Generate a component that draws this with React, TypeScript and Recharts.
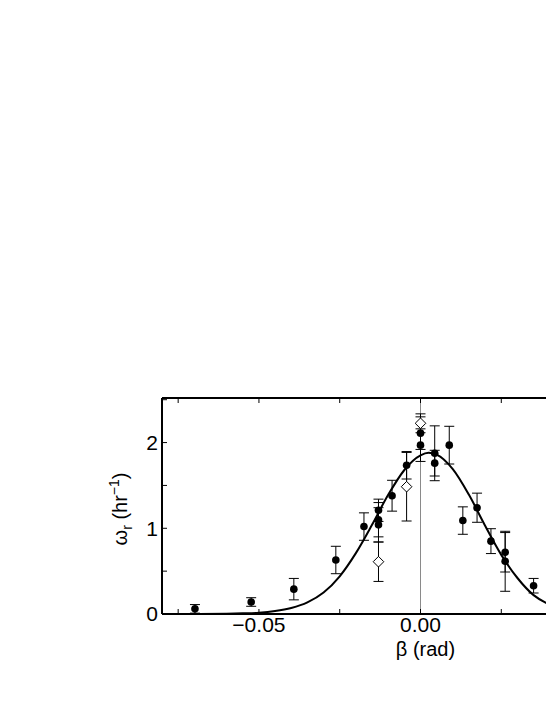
import React from "react";
import {
  ComposedChart,
  XAxis,
  YAxis,
  Scatter,
  Line,
  ErrorBar,
  ReferenceLine,
  Label,
} from "recharts";

// fitted curve
const fitBeta = [
  -0.08, -0.07, -0.06, -0.055, -0.05, -0.045, -0.04, -0.035, -0.03, -0.025,
  -0.02, -0.015, -0.01, -0.005, 0, 0.0025, 0.005, 0.01, 0.015, 0.02, 0.025,
  0.03, 0.035, 0.04, 0.045, 0.05, 0.055, 0.06, 0.07, 0.08,
];
const fitRate = [
  0, 0.001, 0.004, 0.008, 0.015, 0.034, 0.07, 0.135, 0.25, 0.44, 0.71, 1.04,
  1.39, 1.68, 1.85, 1.88, 1.86, 1.69, 1.39, 1.03, 0.69, 0.42, 0.22, 0.11, 0.05,
  0.02, 0.008, 0.003, 0.001, 0,
];

// filled circles
const beta = [
  -0.0698, -0.0524, -0.0392, -0.0262, -0.0175, -0.013, -0.013, -0.013, -0.0088,
  -0.0043, 0.0, 0.0, 0.0044, 0.0044, 0.0089, 0.0131, 0.0175, 0.0218, 0.0262,
  0.0262, 0.035,
];
const rate = [
  0.06, 0.14, 0.29, 0.63, 1.02, 1.21, 1.1, 1.04, 1.38, 1.735, 2.11, 1.97, 1.875,
  1.76, 1.97, 1.09, 1.24, 0.85, 0.72, 0.615, 0.33,
];
const rateErr = [
  0.05, 0.05, 0.125, 0.16, 0.16, 0.13, 0.2, 0.2, 0.18, 0.16, 0.19, 0.19, 0.32,
  0.15, 0.22, 0.16, 0.17, 0.145, 0.23, 0.35, 0.085,
];

// open diamonds
const betaOpen = [-0.013, -0.0043, 0.0];
const rateOpen = [0.61, 1.485, 2.225];
const rateOpenErr = [0.23, 0.4, 0.11];

const betaTicks = [-0.075, -0.05, -0.025, 0, 0.025, 0.05, 0.075];
// the 0.05 label lies past the cropped right edge, so it is not drawn
const betaTickLabels = ["", "\u22120.05", "", "0.00", "", "", ""];
const rateTicks = [0, 0.5, 1, 1.5, 2, 2.5];
const rateTickLabels = ["0", "", "1", "", "2", ""];

const FONT = "'Liberation Sans', Arial, Helvetica, sans-serif";

const fitData = fitBeta.map((x, i) => ({ x, y: fitRate[i] }));
const solidData = beta.map((x, i) => ({ x, y: rate[i], err: rateErr[i] }));
const openData = betaOpen.map((x, i) => ({ x, y: rateOpen[i], err: rateOpenErr[i] }));

const Dot = (props: any) => {
  const { cx, cy } = props;
  if (cx == null || cy == null) return null;
  return <circle cx={cx} cy={cy} r={3.8} fill="#000" />;
};

const Diamond = (props: any) => {
  const { cx, cy } = props;
  if (cx == null || cy == null) return null;
  const s = 5.3;
  return (
    <polygon
      points={`${cx},${cy - s} ${cx + s},${cy} ${cx},${cy + s} ${cx - s},${cy}`}
      fill="#fff"
      stroke="#000"
      strokeWidth={1}
    />
  );
};

const RateLabel = (props: any) => {
  const vb = props.viewBox;
  const cx = vb.x + 25;
  const cy = vb.y + vb.height / 2 + 3;
  return (
    <text
      x={cx}
      y={cy}
      transform={`rotate(-90 ${cx} ${cy})`}
      textAnchor="middle"
      fontSize={20}
      fontFamily={FONT}
      fill="#000"
    >
      ω
      <tspan fontSize={14} dy={5}>
        r
      </tspan>
      <tspan dy={-5}> (hr</tspan>
      <tspan fontSize={14} dy={-8}>
        −1
      </tspan>
      <tspan dy={8}>)</tspan>
    </text>
  );
};

const BetaLabel = (props: any) => {
  const vb = props.viewBox;
  return (
    <text
      x={vb.x + vb.width / 2 + 5}
      y={vb.y + 42}
      textAnchor="middle"
      fontSize={20}
      fontFamily={FONT}
      fill="#000"
    >
      β (rad)
    </text>
  );
};

const tickStyle = { fill: "#000", fontSize: 21, fontFamily: FONT };
const axisLine = { stroke: "#000", strokeWidth: 2 };
const tickLine = { stroke: "#000", strokeWidth: 1 };

export default function App() {
  return (
    <div style={{ width: 546, height: 700, overflow: "hidden", position: "relative" }}>
      <ComposedChart
        width={680}
        height={700}
        margin={{ top: 389, right: 9, bottom: 54, left: 94 }}
      >
        <XAxis
          dataKey="x"
          type="number"
          domain={[-0.08, 0.08]}
          ticks={betaTicks}
          interval={0}
          tickFormatter={(v: number) => betaTickLabels[betaTicks.indexOf(v)] ?? ""}
          tick={tickStyle}
          tickSize={-5}
          tickMargin={8}
          axisLine={axisLine}
          tickLine={tickLine}
          height={40}
          allowDataOverflow
        >
          <Label content={BetaLabel} />
        </XAxis>
        <XAxis
          xAxisId="top"
          orientation="top"
          dataKey="x"
          type="number"
          domain={[-0.08, 0.08]}
          ticks={betaTicks}
          interval={0}
          tickFormatter={() => ""}
          tickSize={-5}
          axisLine={axisLine}
          tickLine={tickLine}
          height={1}
          allowDataOverflow
        />
        <YAxis
          dataKey="y"
          type="number"
          domain={[0, 2.52]}
          ticks={rateTicks}
          interval={0}
          tickFormatter={(v: number) => rateTickLabels[rateTicks.indexOf(v)] ?? ""}
          tick={tickStyle}
          tickSize={-5}
          tickMargin={9}
          axisLine={axisLine}
          tickLine={tickLine}
          width={60}
          allowDataOverflow
        >
          <Label content={RateLabel} />
        </YAxis>
        <ReferenceLine x={0} stroke="#8a8a8a" strokeWidth={1} />
        <Line
          data={fitData}
          dataKey="y"
          type="monotone"
          stroke="#000"
          strokeWidth={2}
          dot={false}
          activeDot={false}
          isAnimationActive={false}
        />
        <Scatter data={solidData} shape={Dot} isAnimationActive={false}>
          <ErrorBar dataKey="err" direction="y" width={5} stroke="#000" strokeWidth={1} />
        </Scatter>
        <Scatter data={openData} shape={Diamond} isAnimationActive={false}>
          <ErrorBar dataKey="err" direction="y" width={5} stroke="#000" strokeWidth={1} />
        </Scatter>
      </ComposedChart>
    </div>
  );
}
